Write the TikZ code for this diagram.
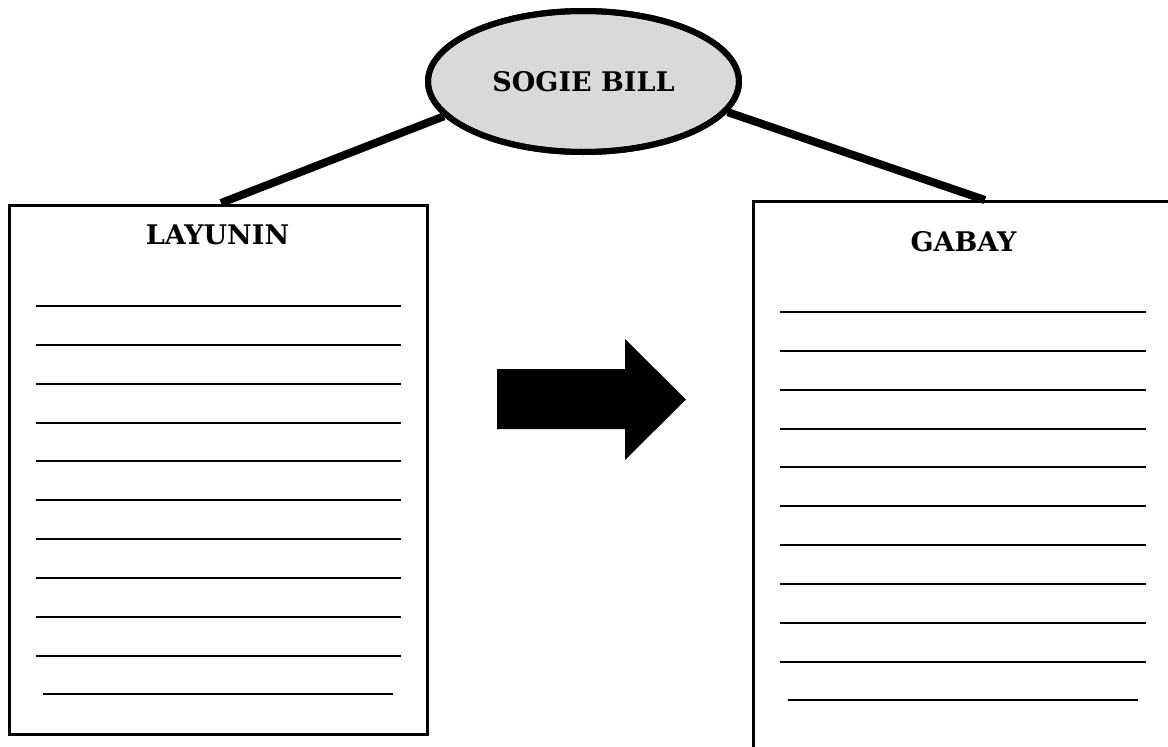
\documentclass[tikz,border=0pt]{standalone}
\usepackage{fontspec}
\setmainfont{DejaVu Serif}
\usetikzlibrary{shapes.geometric}
\definecolor{ovalgray}{HTML}{D9D9D9}
\begin{document}
\begin{tikzpicture}[x=1pt,y=-1pt,
  titletext/.style={font=\bfseries\fontsize{27}{30}\selectfont, inner sep=0pt},
  boxline/.style={line width=3pt},
  connector/.style={line width=8pt},
  writeline/.style={line width=2pt},
]
\useasboundingbox (0,0) rectangle (1168,747);
\clip (0,0) rectangle (1168,747);
% boxes
\draw[boxline] (9.5,205) rectangle (427.5,734);
\draw[boxline] (753.5,760) -- (753.5,201.5) -- (1175,201.5);
\coordinate (lefttop) at (221,203);
\coordinate (righttop) at (985,200);
% oval
\node[ellipse, draw, line width=6pt, fill=ovalgray, minimum width=311pt, minimum height=141pt, inner sep=0pt,
      font=\bfseries\fontsize{27}{30}\selectfont] (sogie) at (583.5,81.5) {SOGIE BILL};
\draw[connector] (sogie.194) -- (lefttop);
\draw[connector] (sogie.348) -- (righttop);
\node[ellipse, draw, line width=6pt, minimum width=311pt, minimum height=141pt, inner sep=0pt] at (583.5,81.5) {};
% titles
\node[titletext] (layunin) at (217.5,235) {LAYUNIN};
\node[titletext] (gabay) at (963.5,242) {GABAY};
% writing lines
\foreach \i in {0,...,9} {
  \draw[writeline] (36,306+38.85*\i) -- (401,306+38.85*\i);
  \draw[writeline] (780,312+38.85*\i) -- (1146,312+38.85*\i);
}
\draw[writeline] (43,694) -- (393,694);
\draw[writeline] (788,700) -- (1138,700);
% block arrow
\fill (497,369) -- (625,369) -- (625,339) -- (686,399.5) -- (625,460) -- (625,429) -- (497,429) -- cycle;
\end{tikzpicture}
\end{document}
